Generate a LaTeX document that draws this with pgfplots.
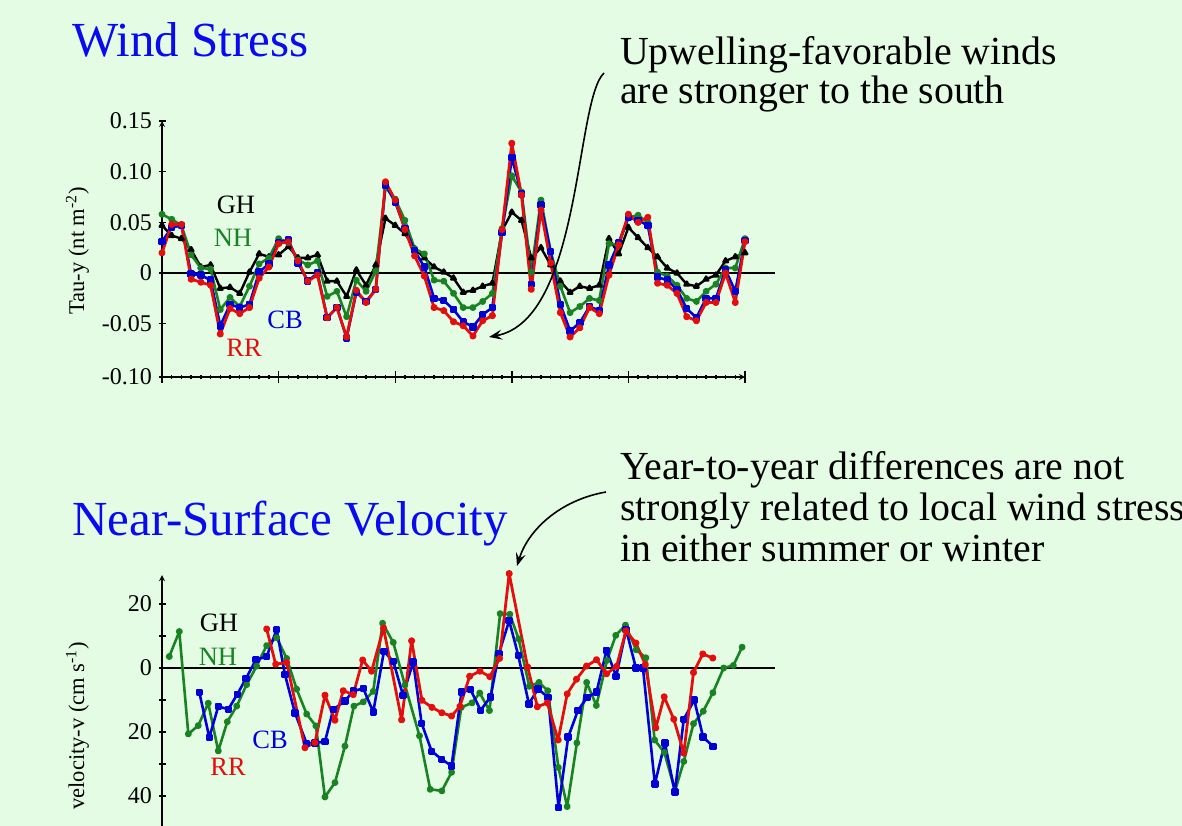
\documentclass[border=0pt]{standalone}
\usepackage{pgfplots}
\pgfplotsset{compat=1.18}
\usepackage{fontspec}
\setmainfont{Liberation Serif}
\usetikzlibrary{arrows.meta}
\definecolor{bg}{RGB}{227,252,227}
\definecolor{cred}{RGB}{228,14,14}
\definecolor{cblue}{RGB}{0,0,215}
\definecolor{cgreen}{RGB}{25,130,35}
\definecolor{tblue}{RGB}{10,10,240}

\pgfplotstableread{
m v
0 0.047
1 0.037
2 0.034
3 0.023
4 0.006
5 0.008
6 -0.015
7 -0.014
8 -0.020
9 0.001
10 0.019
11 0.016
12 0.018
13 0.026
14 0.015
15 0.015
16 0.018
17 -0.008
18 -0.008
19 -0.023
20 0.003
21 -0.012
22 0.008
23 0.054
24 0.047
25 0.039
26 0.024
27 0.015
28 0.006
29 0.001
30 -0.005
31 -0.019
32 -0.017
33 -0.013
34 -0.010
35 0.042
36 0.060
37 0.052
38 0.015
39 0.025
40 0.008
41 -0.008
42 -0.019
43 -0.013
44 -0.015
45 -0.012
46 0.034
47 0.019
48 0.045
49 0.035
50 0.025
51 0.016
52 0.005
53 0.000
54 -0.011
55 -0.013
56 -0.006
57 -0.002
58 0.012
59 0.016
60 0.020
}\tauGH

\pgfplotstableread{
m v
0 0.058
1 0.053
2 0.047
3 0.018
4 0.005
5 0.004
6 -0.036
7 -0.024
8 -0.033
9 -0.013
10 0.009
11 0.015
12 0.034
13 0.030
14 0.013
15 0.008
16 0.012
17 -0.023
18 -0.018
19 -0.043
20 -0.007
21 -0.018
22 0.002
23 0.085
24 0.073
25 0.052
26 0.024
27 0.019
28 -0.007
29 -0.008
30 -0.020
31 -0.034
32 -0.034
33 -0.028
34 -0.020
35 0.044
36 0.096
37 0.080
38 0.001
39 0.072
40 0.021
41 -0.013
42 -0.039
43 -0.033
44 -0.025
45 -0.027
46 0.029
47 0.028
48 0.055
49 0.057
50 0.050
51 0.001
52 -0.003
53 -0.012
54 -0.025
55 -0.028
56 -0.018
57 -0.011
58 0.005
59 0.005
60 0.034
}\tauNH

\pgfplotstableread{
m v
0 0.031
1 0.045
2 0.047
3 -0.001
4 -0.002
5 -0.007
6 -0.052
7 -0.031
8 -0.034
9 -0.031
10 0.001
11 0.009
12 0.030
13 0.033
14 0.010
15 -0.008
16 0.000
17 -0.044
18 -0.034
19 -0.064
20 -0.019
21 -0.028
22 -0.016
23 0.087
24 0.070
25 0.044
26 0.022
27 0.006
28 -0.025
29 -0.027
30 -0.036
31 -0.048
32 -0.053
33 -0.041
34 -0.034
35 0.040
36 0.114
37 0.078
38 -0.011
39 0.067
40 0.021
41 -0.031
42 -0.057
43 -0.049
44 -0.033
45 -0.037
46 0.008
47 0.030
48 0.055
49 0.052
50 0.047
51 -0.004
52 -0.007
53 -0.016
54 -0.035
55 -0.044
56 -0.025
57 -0.025
58 0.003
59 -0.018
60 0.032
}\tauCB

\pgfplotstableread{
m v
0 0.020
1 0.048
2 0.048
3 -0.006
4 -0.009
5 -0.012
6 -0.060
7 -0.035
8 -0.040
9 -0.034
10 -0.005
11 0.006
12 0.029
13 0.031
14 0.012
15 -0.008
16 -0.002
17 -0.044
18 -0.034
19 -0.063
20 -0.017
21 -0.029
22 -0.016
23 0.090
24 0.072
25 0.043
26 0.017
27 -0.003
28 -0.034
29 -0.037
30 -0.048
31 -0.052
32 -0.062
33 -0.047
34 -0.042
35 0.043
36 0.128
37 0.077
38 -0.016
39 0.062
40 0.010
41 -0.039
42 -0.063
43 -0.054
44 -0.034
45 -0.040
46 -0.002
47 0.028
48 0.058
49 0.050
50 0.055
51 -0.010
52 -0.012
53 -0.020
54 -0.043
55 -0.047
56 -0.029
57 -0.029
58 0.000
59 -0.029
60 0.031
}\tauRR

\pgfplotstableread{
m v
0.75 3.6
1.78 11.4
2.71 -20.6
3.73 -18.0
4.76 -11.0
5.79 -25.9
6.72 -16.8
7.69 -11.9
8.71 -5.2
9.74 0.6
10.77 7.0
11.8 9.5
12.83 3.0
13.86 -6.6
14.89 -14.4
15.84 -18.1
16.77 -40.3
17.8 -35.8
18.83 -24.4
19.75 -11.9
20.71 -10.6
21.74 -7.3
22.7 14.0
23.8 8.0
25.0 -5.3
26.5 -21.2
27.6 -37.9
28.8 -38.4
29.8 -32.6
30.8 -12.3
31.9 -10.9
32.7 -7.8
33.7 -13.3
34.8 17.0
35.8 16.8
36.7 9.1
37.8 -5.7
38.8 -4.5
39.7 -7.1
40.8 -31.1
41.7 -43.3
42.7 -23.4
43.7 -4.5
44.7 -11.7
45.8 2.4
46.7 10.2
47.7 13.4
48.8 5.7
49.8 3.2
50.7 -22.5
51.7 -26.4
52.8 -38.4
53.7 -29.2
54.7 -17.4
55.7 -13.5
56.7 -7.7
57.8 0.0
58.8 0.8
59.7 6.5
}\velNH

\pgfplotstableread{
m v
3.84 -7.6
4.87 -21.7
5.79 -12.0
6.82 -12.9
7.75 -8.2
8.64 -3.3
9.67 2.6
10.77 3.6
11.8 12.0
12.65 -2.0
13.68 -14.0
14.89 -23.6
15.74 -23.4
16.77 -23.0
17.62 -13.0
18.83 -10.3
19.68 -7.2
20.71 -6.4
21.74 -13.7
22.84 5.2
23.8 2.1
24.8 -8.5
25.85 1.9
26.72 -17.3
27.75 -26.0
28.78 -28.5
29.8 -30.6
30.83 -7.5
31.76 -6.8
32.79 -13.2
33.82 -9.0
34.67 4.5
35.73 14.8
36.66 4.0
37.76 -11.2
38.7 -6.5
39.74 -9.2
40.81 -43.6
41.8 -21.6
42.8 -13.3
43.75 -9.2
44.72 -7.5
45.75 5.5
46.74 -2.6
47.77 12.0
48.77 0.0
49.5 0.0
50.72 -36.2
51.75 -23.4
52.78 -38.8
53.7 -16.0
54.78 -10.0
55.69 -21.6
56.72 -24.5
}\velCB

\pgfplotstableread{
m v
10.77 12.2
11.7 1.2
12.83 1.7
14.71 -24.9
15.74 -23.3
16.77 -8.5
17.8 -16.3
18.65 -7.1
19.68 -8.3
20.65 2.5
21.57 -1.0
22.8 12.5
24.66 -16.2
25.69 8.5
26.75 -10.1
27.78 -12.3
28.8 -14.0
29.8 -15.0
30.66 -12.0
31.66 -2.6
32.72 -1.0
33.74 -2.7
34.74 3.0
35.73 29.5
37.63 0.3
38.63 -12.1
39.66 -10.9
40.77 -22.5
41.7 -8.1
42.66 -3.5
43.69 0.6
44.72 2.6
45.75 -1.8
46.78 0.5
47.74 11.6
48.77 7.8
49.74 1.1
50.82 -18.7
51.68 -9.0
52.67 -16.0
53.7 -26.6
54.7 -1.4
55.66 4.4
56.69 3.1
}\velRR

\begin{document}
\begin{tikzpicture}
\fill[bg] (0pt,0pt) rectangle (1182pt,-826pt);
\useasboundingbox (0pt,0pt) rectangle (1182pt,-826pt);
\clip (0pt,0pt) rectangle (1182pt,-826pt);

\pgfplotsset{
  myaxis/.style={
    scale only axis, width=583pt, anchor=south west,
    xmin=0, xmax=60, clip=false,
    axis line style={-, line width=1.6pt, black},
    tick align=outside,
    tick style={black, line width=1.4pt},
    tick label style={font=\fontsize{24}{24}\selectfont, black},
    yticklabel style={xshift=-3pt},
  },
  gh/.style={black, line width=2.4pt, line join=round, mark=triangle*, mark size=2.6pt, mark options={solid}},
  nh/.style={cgreen, line width=2.6pt, line join=round, mark=*, mark size=2.1pt},
  cb/.style={cblue, line width=2.6pt, line join=round, mark=square*, mark size=2.4pt},
  rr/.style={cred, line width=2.8pt, line join=round, mark=*, mark size=2.1pt},
}

% ---------- Wind stress ----------
\begin{axis}[myaxis,
  at={(162pt,-377pt)}, height=256pt,
  ymin=-0.1025, ymax=0.15,
  axis x line=bottom, axis y line=left,
  xtick={0,12,...,60}, xticklabels={,,,,,},
  minor x tick num=11,
  extra x ticks={0,12,...,60}, extra x tick labels={,,,,,},
  extra tick style={major tick length=12pt},
  ytick={-0.1025,-0.05,0,0.05,0.1,0.15},
  yticklabels={-0.10,-0.05,0,0.05,0.10,0.15},
  major tick length=7pt, minor tick length=4.5pt,
]
\draw[black, line width=1.3pt] (axis cs:-0.2,0) -- (axis cs:63.1,0);
\addplot[gh] table[x=m,y=v] {\tauGH};
\addplot[nh] table[x=m,y=v] {\tauNH};
\addplot[cb] table[x=m,y=v] {\tauCB};
\addplot[rr] table[x=m,y=v] {\tauRR};
\end{axis}

% ---------- Velocity ----------
\begin{axis}[myaxis,
  at={(162pt,-828pt)}, height=252.8pt,
  ymin=-50, ymax=29,
  axis y line=left, axis x line=none,
  xtick=\empty,
  ytick={-40,-20,0,20}, yticklabels={40,20,0,20},
  minor ytick={-50,-30,-10,10},
  major tick length=7pt, minor tick length=7pt,
]
\draw[black, line width=1.3pt] (axis cs:-0.2,0) -- (axis cs:63.1,0);
\addplot[nh] table[x=m,y=v] {\velNH};
\addplot[cb] table[x=m,y=v] {\velCB};
\addplot[rr] table[x=m,y=v] {\velRR};
\end{axis}

% ---------- titles and labels ----------
\node[anchor=base west, inner sep=0pt, text=tblue, font=\fontsize{49}{49}\selectfont] at (72pt,-57pt) {Wind Stress};
\node[anchor=base west, inner sep=0pt, text=tblue, font=\fontsize{49}{49}\selectfont] at (72pt,-535pt) {Near-Surface Velocity};

\node[anchor=base, rotate=90, inner sep=0pt, font=\fontsize{22.5}{22.5}\selectfont] at (84pt,-251pt) {Tau-y (nt m\textsuperscript{-2})};
\node[anchor=base, rotate=90, inner sep=0pt, font=\fontsize{22.5}{22.5}\selectfont] at (84pt,-726pt) {velocity-v (cm s\textsuperscript{-1})};

\begin{scope}[every node/.style={inner sep=0pt, font=\fontsize{26.5}{26.5}\selectfont}]
\node[black] at (236pt,-205pt) {GH};
\node[cgreen] at (233pt,-238pt) {NH};
\node[cblue] at (285pt,-320pt) {CB};
\node[cred] at (244pt,-348pt) {RR};
\node[black] at (219pt,-623pt) {GH};
\node[cgreen] at (218pt,-657pt) {NH};
\node[cblue] at (270pt,-740pt) {CB};
\node[cred] at (228pt,-767pt) {RR};
\end{scope}

\begin{scope}[every node/.style={anchor=base west, inner sep=0pt, font=\fontsize{39.8}{39.8}\selectfont}]
\node at (620pt,-65pt) {Upwelling-favorable winds};
\node at (620pt,-104pt) {are stronger to the south};
\node at (620pt,-479pt) {Year-to-year differences are not};
\node at (620pt,-520pt) {strongly related to local wind stress};
\node at (620pt,-561pt) {in either summer or winter};
\end{scope}

\draw[line width=1.6pt, -{Stealth[length=13pt,width=10pt,inset=5pt]}] (604pt,-73pt) .. controls (575pt,-100pt) and (582pt,-320pt) .. (489pt,-337pt);
\draw[line width=1.6pt, -{Stealth[length=13pt,width=10pt,inset=5pt]}] (606pt,-492pt) .. controls (560pt,-500pt) and (528pt,-530pt) .. (517pt,-566pt);
\end{tikzpicture}
\end{document}
